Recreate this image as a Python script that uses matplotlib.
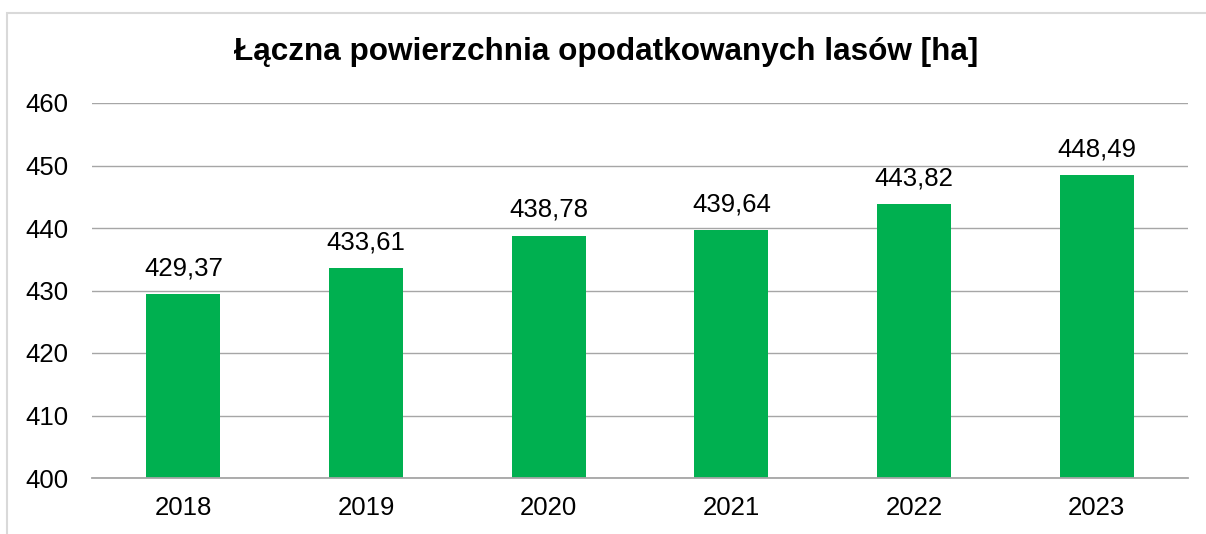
import matplotlib.pyplot as plt
from matplotlib.patches import Rectangle

years = ['2018', '2019', '2020', '2021', '2022', '2023']
values = [429.37, 433.61, 438.78, 439.64, 443.82, 448.49]
yticks = [400, 410, 420, 430, 440, 450, 460]

plt.rcParams['font.family'] = ['Liberation Sans', 'DejaVu Sans']

fig = plt.figure(figsize=(12.06, 5.34), dpi=100)
# outer chart frame (only left/top visible in the crop)
fig.patches.append(Rectangle((7 / 1206, -0.1), 1.2, (534 - 13) / 534 + 0.1,
                             transform=fig.transFigure, fill=False,
                             edgecolor='#D9D9D9', linewidth=1.5))

ax = fig.add_axes([92 / 1206, 1 - 478 / 534, (1188 - 92) / 1206, (478 - 103) / 534])
x = range(len(years))
bars = ax.bar(x, values, width=0.405, color='#00B050', zorder=2,
              bottom=0)
ax.set_ylim(400, 460)
ax.set_xlim(-0.5, len(years) - 0.5)
ax.set_yticks(yticks)
ax.set_xticks(list(x))
ax.set_xticklabels(years)
ax.grid(axis='y', color='#A6A6A6', linewidth=1.0, zorder=0)
for s in ['top', 'right', 'left']:
    ax.spines[s].set_visible(False)
ax.spines['bottom'].set_color('#A6A6A6')
ax.spines['bottom'].set_linewidth(1.3)
ax.tick_params(axis='both', length=0, labelsize=18.5, colors='black')
ax.tick_params(axis='y', pad=17)
ax.tick_params(axis='x', pad=13)

for xi, v in zip(x, values):
    ax.annotate(f'{v:.2f}'.replace('.', ','), (xi, v), xytext=(0, 10),
                textcoords='offset points', ha='center', va='bottom',
                fontsize=18.5)

fig.text(0.503, 1 - 52 / 534, 'Łączna powierzchnia opodatkowanych lasów [ha]',
         ha='center', va='center', fontsize=22.7, fontweight='bold')

fig.savefig('out.png', dpi=100)
